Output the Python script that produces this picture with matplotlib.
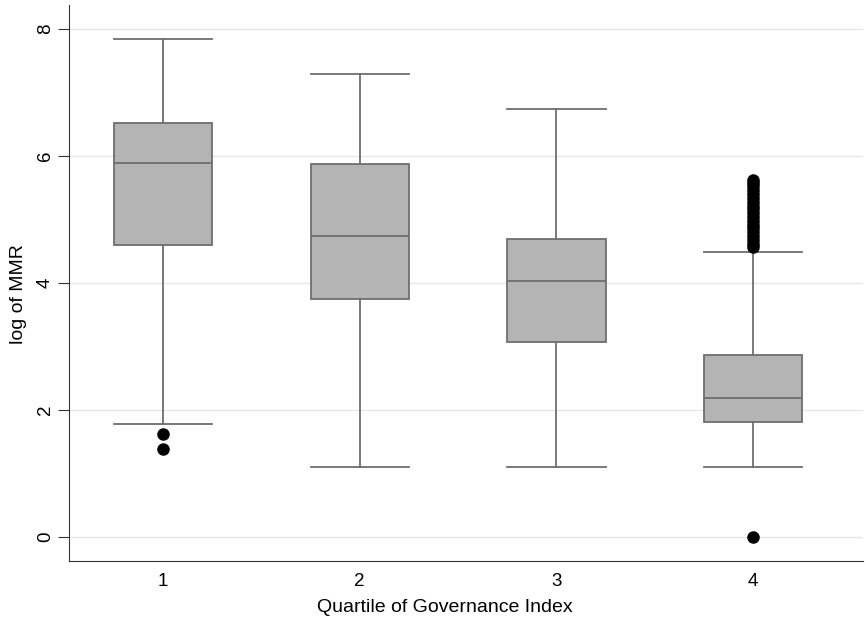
import matplotlib
matplotlib.use("Agg")
import matplotlib.pyplot as plt

plt.rcParams['font.family'] = ['Liberation Sans', 'DejaVu Sans']

# Boxplot summary values
quartiles = [1, 2, 3, 4]
whisker_low = [1.77, 1.10, 1.10, 1.10]
q1 = [4.60, 3.74, 3.07, 1.80]
median = [5.89, 4.74, 4.03, 2.19]
q3 = [6.52, 5.87, 4.69, 2.87]
whisker_high = [7.85, 7.29, 6.74, 4.49]
outliers_q1 = [1.62, 1.39]
outliers_q2 = []
outliers_q3 = []
outliers_q4 = [0.0, 4.56, 4.62, 4.68, 4.74, 4.80, 4.86, 4.92, 4.98, 5.04, 5.10,
               5.16, 5.22, 5.28, 5.34, 5.40, 5.46, 5.52, 5.58, 5.62]
outliers = [outliers_q1, outliers_q2, outliers_q3, outliers_q4]

stats = []
for i in range(4):
    stats.append({
        'whislo': whisker_low[i], 'q1': q1[i], 'med': median[i],
        'q3': q3[i], 'whishi': whisker_high[i], 'fliers': outliers[i],
    })

fig = plt.figure(figsize=(8.65, 6.28), dpi=100)
ax = fig.add_axes([0.080, 0.107, 0.918, 0.885])

line_col = '#6e6e6e'
ax.bxp(stats, positions=quartiles, widths=0.5, patch_artist=True,
       boxprops=dict(facecolor='#b4b4b4', edgecolor=line_col, linewidth=1.3),
       medianprops=dict(color=line_col, linewidth=1.3),
       whiskerprops=dict(color=line_col, linewidth=1.3),
       capprops=dict(color=line_col, linewidth=1.3),
       capwidths=0.5,
       flierprops=dict(marker='o', markerfacecolor='black', markeredgecolor='black',
                       markersize=8))

ax.set_xlim(0.523, 4.56)
ax.set_ylim(-0.38, 8.38)
ax.set_yticks([0, 2, 4, 6, 8])
ax.set_xticks(quartiles)
ax.set_xticklabels([str(q) for q in quartiles])
ax.yaxis.grid(True, color='#e6e6e6', linewidth=1.0)
ax.set_axisbelow(True)
for s in ['top', 'right']:
    ax.spines[s].set_visible(False)
ax.spines['left'].set_color('#333333')
ax.spines['bottom'].set_color('#333333')
ax.tick_params(axis='x', length=0, labelsize=13.5, pad=9)
ax.tick_params(axis='y', length=8, labelsize=13.5, color='#333333', pad=3)
for lab in ax.get_yticklabels():
    lab.set_rotation(90)
    lab.set_va('center')
ax.set_xlabel('Quartile of Governance Index', fontsize=14, labelpad=6, x=0.473)
ax.set_ylabel('log of MMR', fontsize=14, labelpad=7, y=0.48)

fig.savefig('out.png', dpi=100)
